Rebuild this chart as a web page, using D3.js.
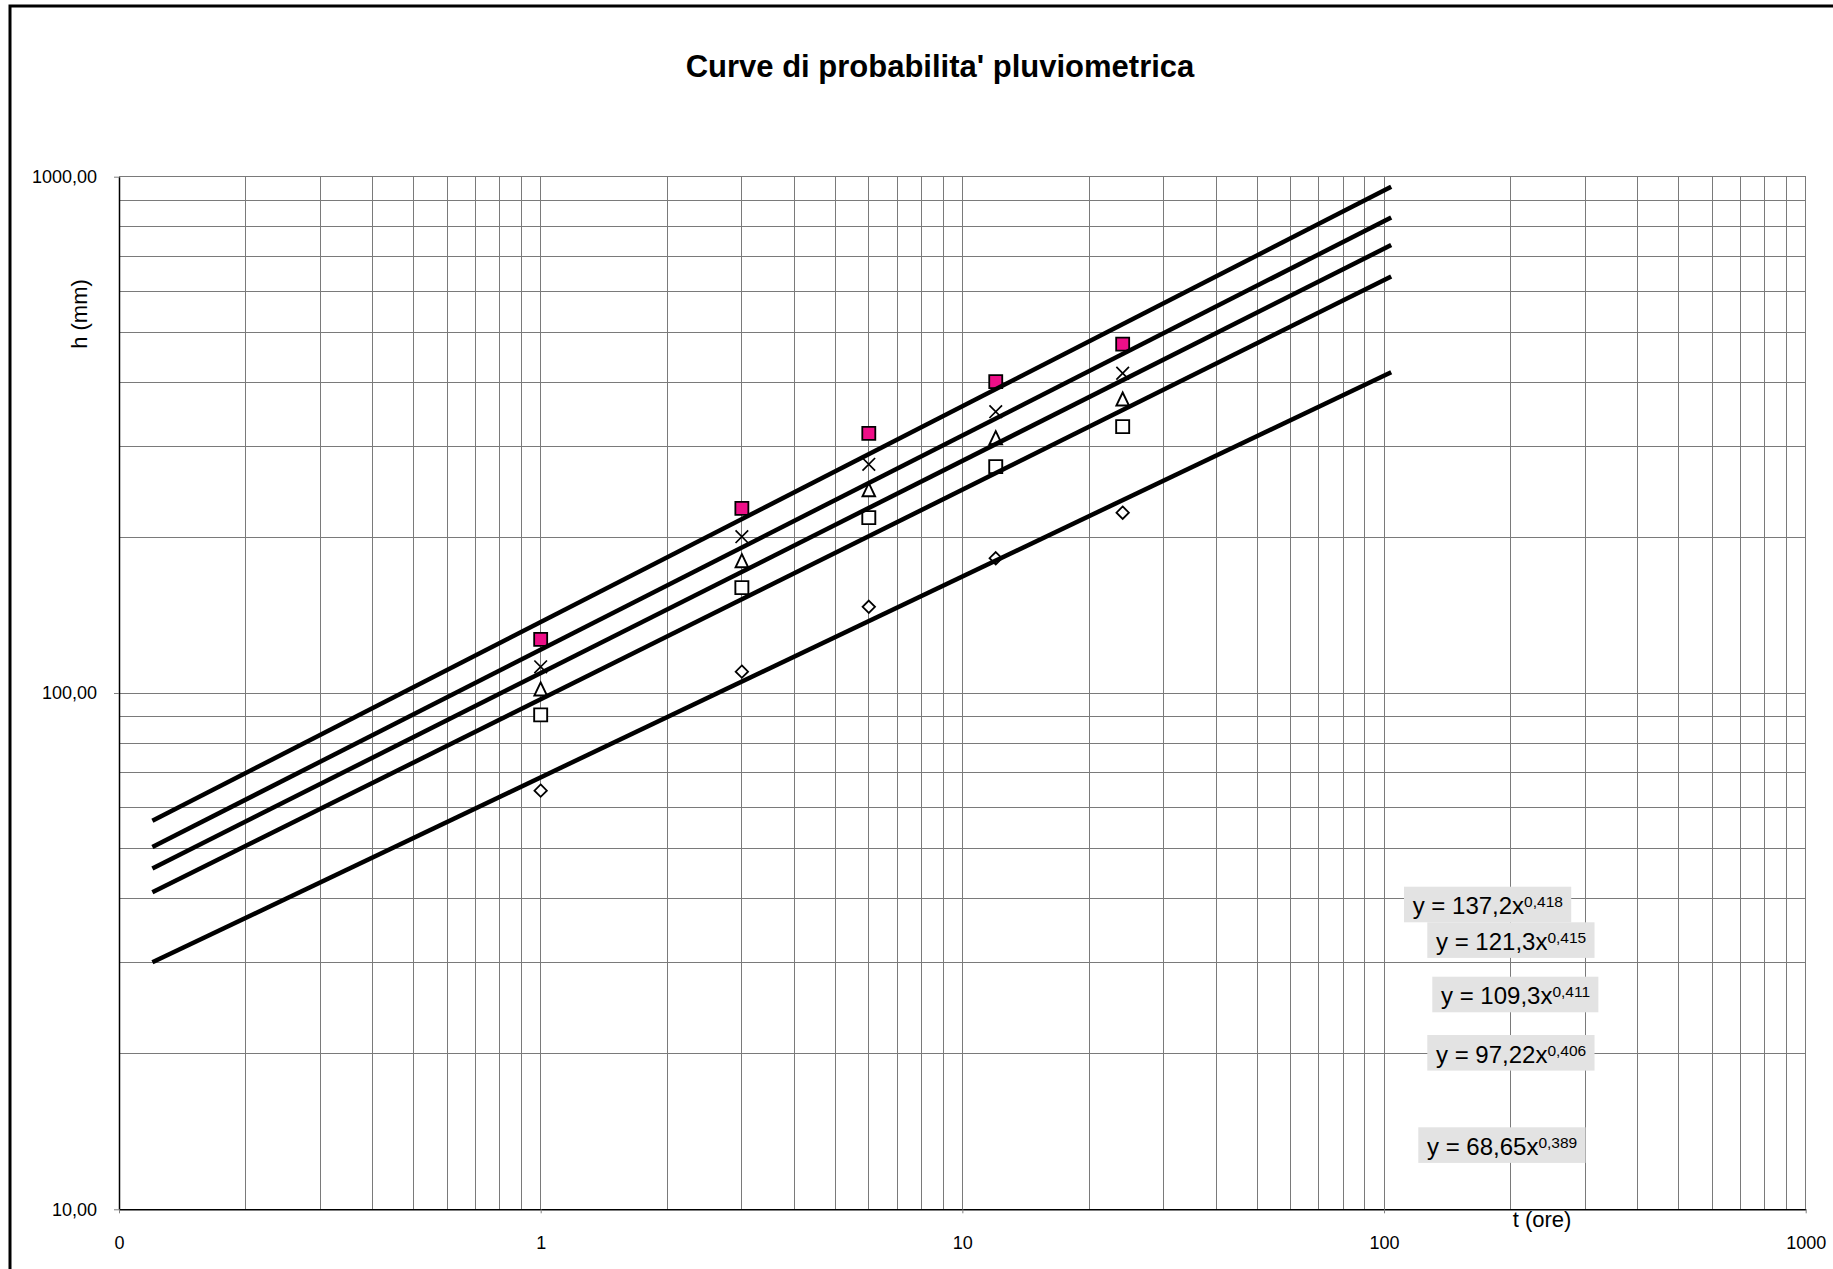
<!DOCTYPE html>
<html><head><meta charset="utf-8">
<script src="https://cdn.jsdelivr.net/npm/d3@7"></script>
<style>
body{margin:0;background:#fff}
svg{display:block}
text{font-family:"Liberation Sans",Arial,sans-serif;fill:#000}
</style>
</head><body>
<svg id="chart" width="1833" height="1269"></svg>
<script>
// ---------- data ----------
const durations = [1, 3, 6, 12, 24];
const hPinkSquare = [127.0, 227.9, 318.4, 400.9, 474.0];
const hCross      = [112.4, 200.8, 277.3, 350.6, 416.2];
const hTriangle   = [101.7, 180.2, 247.3, 311.8, 370.6];
const hSquare     = [90.7, 160.0, 218.6, 274.4, 328.0];
const hDiamond    = [64.7, 110.0, 146.9, 182.4, 223.5];
const coefA = [137.2, 121.3, 109.3, 97.22, 68.65];
const coefN = [0.418, 0.415, 0.411, 0.406, 0.389];
const eqMain = ["y = 137,2x", "y = 121,3x", "y = 109,3x", "y = 97,22x", "y = 68,65x"];
const eqExp  = ["0,418", "0,415", "0,411", "0,406", "0,389"];
const trendRange = [0.12, 104];
const xTicks = [0.1, 1, 10, 100, 1000];
const xTickLabels = ["0", "1", "10", "100", "1000"];
const yTicks = [10, 100, 1000];
const yTickLabels = ["10,00", "100,00", "1000,00"];
const titleText = "Curve di probabilita' pluviometrica";
const xTitle = "t (ore)";
const yTitle = "h (mm)";

// ---------- layout ----------
const L = 119, R = 1805.7, T = 176.7, B = 1209.3;
const eqBoxPos = [[1404, 886.7], [1427.3, 922.3], [1432.3, 976.7], [1427.3, 1035], [1418.3, 1127.3]];
const markerTypes = ["pinkSquare", "cross", "triangle", "square", "diamond"];
const seriesVals = [hPinkSquare, hCross, hTriangle, hSquare, hDiamond];

const svg = d3.select("#chart");
const x = d3.scaleLog().domain([0.1, 1000]).range([L, R]);
const y = d3.scaleLog().domain([10, 1000]).range([B, T]);

// outer frame
svg.append("rect").attr("x", 10).attr("y", 6).attr("width", 1900).attr("height", 1400)
  .attr("fill", "none").attr("stroke", "#000").attr("stroke-width", 3);

// title
svg.append("text").attr("x", 940).attr("y", 77).attr("text-anchor", "middle")
  .style("font-size", "31px").style("font-weight", "bold").text(titleText);

// gridlines
const grid = svg.append("g").attr("shape-rendering", "crispEdges");
const xGrid = [], yGrid = [];
for (let e = -1; e < 3; e++) for (let k = 1; k <= 9; k++) xGrid.push(k * Math.pow(10, e));
xGrid.push(1000);
for (let e = 1; e < 3; e++) for (let k = 1; k <= 9; k++) yGrid.push(k * Math.pow(10, e));
yGrid.push(1000);
grid.selectAll("line.xg").data(xGrid.filter(d => d > 0.1)).join("line")
  .attr("x1", d => x(d)).attr("x2", d => x(d)).attr("y1", T).attr("y2", B)
  .attr("stroke", "#7a7a7a").attr("stroke-width", 1);
grid.selectAll("line.yg").data(yGrid.filter(d => d > 10)).join("line")
  .attr("x1", L).attr("x2", R).attr("y1", d => y(d)).attr("y2", d => y(d))
  .attr("stroke", "#7a7a7a").attr("stroke-width", 1);

// axes
const yAxis = d3.axisLeft(y).tickValues(yTicks).tickFormat((d, i) => yTickLabels[i])
  .tickSizeInner(5).tickSizeOuter(0).tickPadding(17);
const gy = svg.append("g").attr("transform", `translate(${L},0)`).call(yAxis);
const xAxis = d3.axisBottom(x).tickValues(xTicks).tickFormat((d, i) => xTickLabels[i])
  .tickSizeInner(4).tickSizeOuter(0).tickPadding(23);
const gx = svg.append("g").attr("transform", `translate(0,${B})`).call(xAxis);
[gx, gy].forEach(g => {
  g.select(".domain").attr("stroke", "#000").attr("stroke-width", 1.5);
  g.selectAll(".tick line").attr("stroke", "#808080");
  g.selectAll(".tick text").style("font-size", "18px").style("font-family", "'Liberation Sans',Arial,sans-serif").attr("fill", "#000");
});

// axis titles
svg.append("text").attr("x", 1542).attr("y", 1227).attr("text-anchor", "middle")
  .style("font-size", "22px").text(xTitle);
svg.append("text").attr("transform", "translate(87,314) rotate(-90)").attr("text-anchor", "middle")
  .style("font-size", "22px").text(yTitle);

// markers
function markerPath(type, cx, cy) {
  const p = d3.path();
  if (type === "pinkSquare" || type === "square") {
    const h = 6.5; p.rect(cx - h, cy - h, 2 * h, 2 * h);
  } else if (type === "cross") {
    const h = 6.3;
    p.moveTo(cx - h, cy - h); p.lineTo(cx + h, cy + h);
    p.moveTo(cx + h, cy - h); p.lineTo(cx - h, cy + h);
  } else if (type === "triangle") {
    const h = 6.3;
    p.moveTo(cx, cy - h - 0.5); p.lineTo(cx + h, cy + h); p.lineTo(cx - h, cy + h); p.closePath();
  } else if (type === "diamond") {
    const h = 6.2;
    p.moveTo(cx, cy - h); p.lineTo(cx + h, cy); p.lineTo(cx, cy + h); p.lineTo(cx - h, cy); p.closePath();
  }
  return p.toString();
}
const markerStyle = {
  pinkSquare: {fill: "#EE0F88", sw: 1.8},
  cross: {fill: "none", sw: 1.7},
  triangle: {fill: "#fff", sw: 1.9},
  square: {fill: "#fff", sw: 1.9},
  diamond: {fill: "#fff", sw: 1.8}
};
const mg = svg.append("g");
seriesVals.forEach((vals, si) => {
  const type = markerTypes[si];
  mg.selectAll(null).data(vals.map((v, i) => ({t: durations[i], h: v}))).join("path")
    .attr("d", d => markerPath(type, x(d.t), y(d.h)))
    .attr("fill", markerStyle[type].fill).attr("stroke", "#000")
    .attr("stroke-width", markerStyle[type].sw);
});

// trend lines (power fits shown in labels)
const line = d3.line().x(d => x(d[0])).y(d => y(d[1]));
coefA.forEach((a, si) => {
  const pts = trendRange.map(t => [t, a * Math.pow(t, coefN[si])]);
  svg.append("path").attr("d", line(pts)).attr("fill", "none")
    .attr("stroke", "#000").attr("stroke-width", 4.5);
});

// equation labels
eqMain.forEach((txt, i) => {
  const [bx, by] = eqBoxPos[i];
  const g = svg.append("g");
  const rect = g.append("rect").attr("x", bx).attr("y", by).attr("height", 35.6).attr("fill", "#e3e3e3");
  const t = g.append("text").attr("x", bx + 8.7).attr("y", by + 27.6).style("font-size", "24px");
  t.append("tspan").text(txt);
  t.append("tspan").attr("dy", -7).style("font-size", "15.5px").text(eqExp[i]);
  const w = t.node().getBBox().width;
  rect.attr("width", w + 17);
});
</script>
</body></html>
